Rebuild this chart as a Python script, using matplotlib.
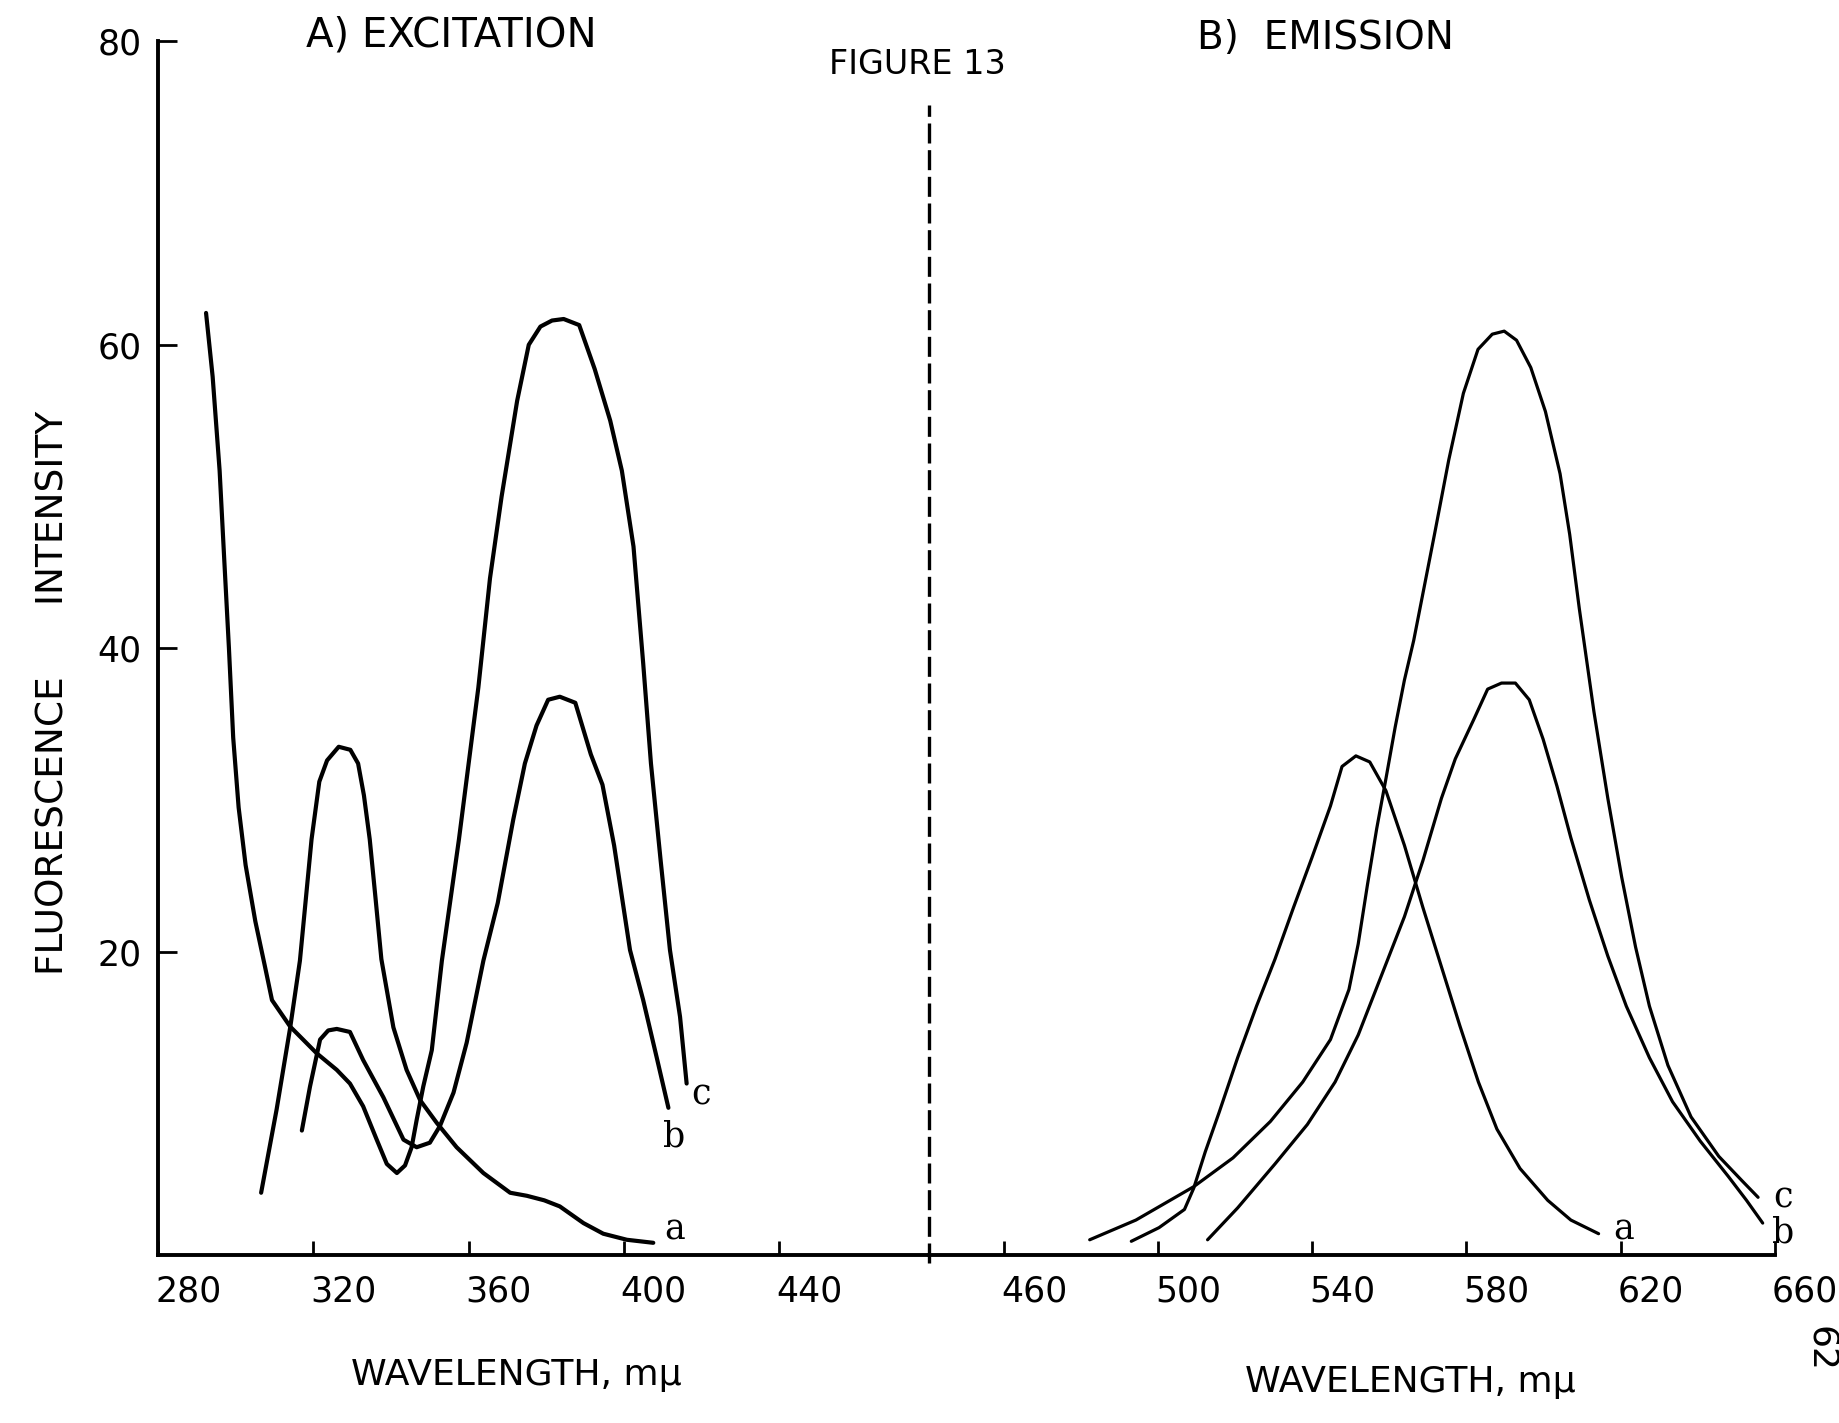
import matplotlib
matplotlib.use("Agg")
import matplotlib.pyplot as plt
from matplotlib.transforms import ScaledTranslation

# A) excitation spectra (wavelength, intensity)
exc_a_x = [306.5, 310.5, 314.0, 316.5, 319.5, 321.5, 323.5, 326.5, 329.5, 331.5, 333.0, 334.5,
           336.0, 337.5, 340.6, 344.0, 347.5, 351.8, 356.9, 363.8, 370.7, 375.0, 379.5, 383.5,
           389.6, 394.7, 400.8, 407.6]
exc_a_y = [4.1, 9.6, 15.0, 19.4, 27.4, 31.2, 32.6, 33.5, 33.3, 32.4, 30.3, 27.4,
           23.5, 19.5, 15.0, 12.2, 10.2, 8.7, 7.1, 5.4, 4.1, 3.9, 3.6, 3.2,
           2.1, 1.4, 1.0, 0.8]
exc_b_x = [317.0, 319.1, 321.7, 323.8, 326.0, 329.4, 332.8, 338.0, 343.2, 346.6, 350.0, 352.6,
           356.1, 359.5, 363.8, 367.5, 371.5, 374.5, 377.5, 380.5, 383.5, 387.5, 391.5, 394.5,
           397.5, 401.6, 405.0, 408.5, 411.5]
exc_b_y = [8.2, 11.1, 14.2, 14.8, 14.9, 14.7, 12.85, 10.4, 7.6, 7.1, 7.4, 8.5,
           10.7, 14.0, 19.4, 23.2, 28.7, 32.4, 34.9, 36.6, 36.8, 36.4, 33.0, 31.0,
           27.0, 20.1, 16.8, 13.0, 9.7]
exc_c_x = [292.3, 294.0, 295.8, 297.0, 298.2, 299.3, 300.7, 302.5, 305.0, 307.5, 309.3, 314.0,
           320.8, 326.0, 329.4, 332.8, 336.3, 338.9, 341.5, 343.6, 345.3, 346.6, 348.3, 350.5,
           353.1, 357.5, 362.5, 365.5, 368.5, 372.5, 375.5, 378.5, 381.5, 384.5, 388.5, 392.5,
           396.5, 399.5, 402.5, 405.0, 407.0, 409.5, 411.9, 414.5, 416.2]
exc_c_y = [62.1, 57.9, 51.7, 45.8, 40.0, 34.1, 29.5, 25.7, 22.0, 19.0, 16.8, 15.05,
           13.3, 12.2, 11.3, 9.8, 7.6, 6.0, 5.4, 5.9, 7.1, 8.9, 11.1, 13.5,
           19.4, 27.4, 37.4, 44.6, 50.0, 56.3, 60.0, 61.2, 61.6, 61.7, 61.3, 58.4,
           55.0, 51.7, 46.7, 39.0, 32.4, 26.0, 20.1, 15.7, 11.3]

# B) emission spectra
emi_a_x = [493.0, 500.2, 506.8, 509.2, 512.2, 515.8, 520.6, 525.5, 530.3, 535.1, 539.9, 544.7,
           547.7, 551.3, 554.9, 559.1, 563.9, 568.7, 573.5, 578.3, 583.1, 587.9, 593.9, 601.1,
           607.1, 614.3]
emi_a_y = [0.9, 1.8, 3.0, 4.4, 6.8, 9.4, 13.0, 16.4, 19.5, 22.9, 26.2, 29.6,
           32.2, 32.9, 32.5, 30.6, 27.0, 22.9, 19.0, 15.1, 11.4, 8.3, 5.7, 3.6,
           2.3, 1.4]
emi_b_x = [512.8, 520.6, 530.3, 538.7, 545.9, 551.9, 557.9, 563.9, 568.7, 573.5, 577.1, 581.9,
           585.5, 589.1, 592.7, 596.3, 599.9, 603.5, 607.1, 611.9, 616.7, 621.5, 627.5, 633.5,
           640.7, 647.9, 652.7, 656.9]
emi_b_y = [1.0, 3.1, 6.0, 8.6, 11.4, 14.5, 18.4, 22.3, 26.0, 30.1, 32.7, 35.3,
           37.3, 37.7, 37.7, 36.6, 34.0, 30.9, 27.5, 23.4, 19.7, 16.4, 13.0, 10.1,
           7.5, 5.2, 3.6, 2.1]
emi_c_x = [482.2, 494.2, 509.2, 519.4, 529.1, 537.5, 544.7, 549.5, 551.9, 554.3, 556.7, 559.1,
           561.5, 563.9, 566.3, 571.7, 575.4, 579.2, 583.0, 586.7, 589.8, 593.0, 596.7, 600.5,
           604.3, 606.8, 609.3, 613.1, 616.7, 620.3, 623.9, 627.5, 632.3, 638.3, 645.5, 651.5,
           655.7]
emi_c_y = [1.0, 2.3, 4.5, 6.4, 8.8, 11.4, 14.2, 17.5, 20.5, 24.4, 28.1, 31.4,
           34.8, 37.9, 40.5, 47.5, 52.4, 56.8, 59.7, 60.7, 60.9, 60.3, 58.5, 55.6,
           51.5, 47.5, 42.6, 35.8, 30.1, 24.9, 20.3, 16.4, 12.5, 9.1, 6.5, 4.9,
           3.8]

exc_ticks = [280, 320, 360, 400, 440]
emi_ticks = [460, 500, 540, 580, 620, 660]
y_ticks = [20, 40, 60, 80]

fig = plt.figure(figsize=(18.39, 14.23), dpi=100)
fs = 26

ax1 = fig.add_axes([0.0861, 0.1181, 0.4191, 0.8528])
ax2 = fig.add_axes([0.5052, 0.1181, 0.4598, 0.8528])

ax1.set_xlim(280, 478.7)
ax2.set_xlim(440.5, 660)
for ax in (ax1, ax2):
    ax.set_ylim(0, 80)
    ax.patch.set_alpha(0)
    for s in ("top", "right"):
        ax.spines[s].set_visible(False)
    ax.spines["bottom"].set_linewidth(2.8)
    ax.spines["left"].set_linewidth(2.8)
    ax.tick_params(direction="in", length=10, width=2, labelsize=fs - 1, pad=14)
ax2.spines["left"].set_visible(False)
ax2.set_yticks([])

for x, y in ((exc_a_x, exc_a_y), (exc_b_x, exc_b_y), (exc_c_x, exc_c_y)):
    ax1.plot(x, y, color="black", lw=3.0, solid_capstyle="round", solid_joinstyle="round")
for x, y in ((emi_a_x, emi_a_y), (emi_b_x, emi_b_y), (emi_c_x, emi_c_y)):
    ax2.plot(x, y, color="black", lw=2.3, solid_capstyle="round", solid_joinstyle="round")

ax1.set_yticks(y_ticks)
ax1.tick_params(axis="y", length=14, pad=12)
ax1.set_xticks(exc_ticks)
ax2.set_xticks(emi_ticks)

# hand lettering sits to the right of each tick
shift = ScaledTranslation(0.30, 0, fig.dpi_scale_trans)
for ax in (ax1, ax2):
    for lab in ax.get_xticklabels():
        lab.set_transform(lab.get_transform() + shift)

# dividing dashed line
ax2.plot([440.5, 440.5], [-0.5, 75.8], color="black", lw=2.4, ls=(0, (6, 2)), clip_on=False)

# curve letters
for ax, x, y, t in ((ax1, 413.0, 1.7, "a"), (ax1, 413.0, 7.8, "b"), (ax1, 420.0, 10.6, "c"),
                    (ax2, 620.9, 1.7, "a"), (ax2, 662.3, 1.5, "b"), (ax2, 662.3, 3.8, "c")):
    ax.text(x, y, t, fontsize=fs - 1, ha="center", va="center", family="DejaVu Serif",
            clip_on=False)

fig.text(0.2455, 0.975, "A) EXCITATION", fontsize=29, ha="center", va="center")
fig.text(0.4987, 0.955, "FIGURE 13", fontsize=24, ha="center", va="center")
fig.text(0.7205, 0.973, "B)  EMISSION", fontsize=28, ha="center", va="center")
fig.text(0.029, 0.513, "FLUORESCENCE      INTENSITY", fontsize=27, rotation=90,
         ha="center", va="center")
fig.text(0.281, 0.034, "WAVELENGTH, mμ", fontsize=fs, ha="center", va="center")
fig.text(0.767, 0.029, "WAVELENGTH, mμ", fontsize=fs, ha="center", va="center")
fig.text(0.99, 0.052, "62", fontsize=fs, rotation=-90, ha="center", va="center")

fig.savefig("out.png", dpi=100, facecolor="white")
